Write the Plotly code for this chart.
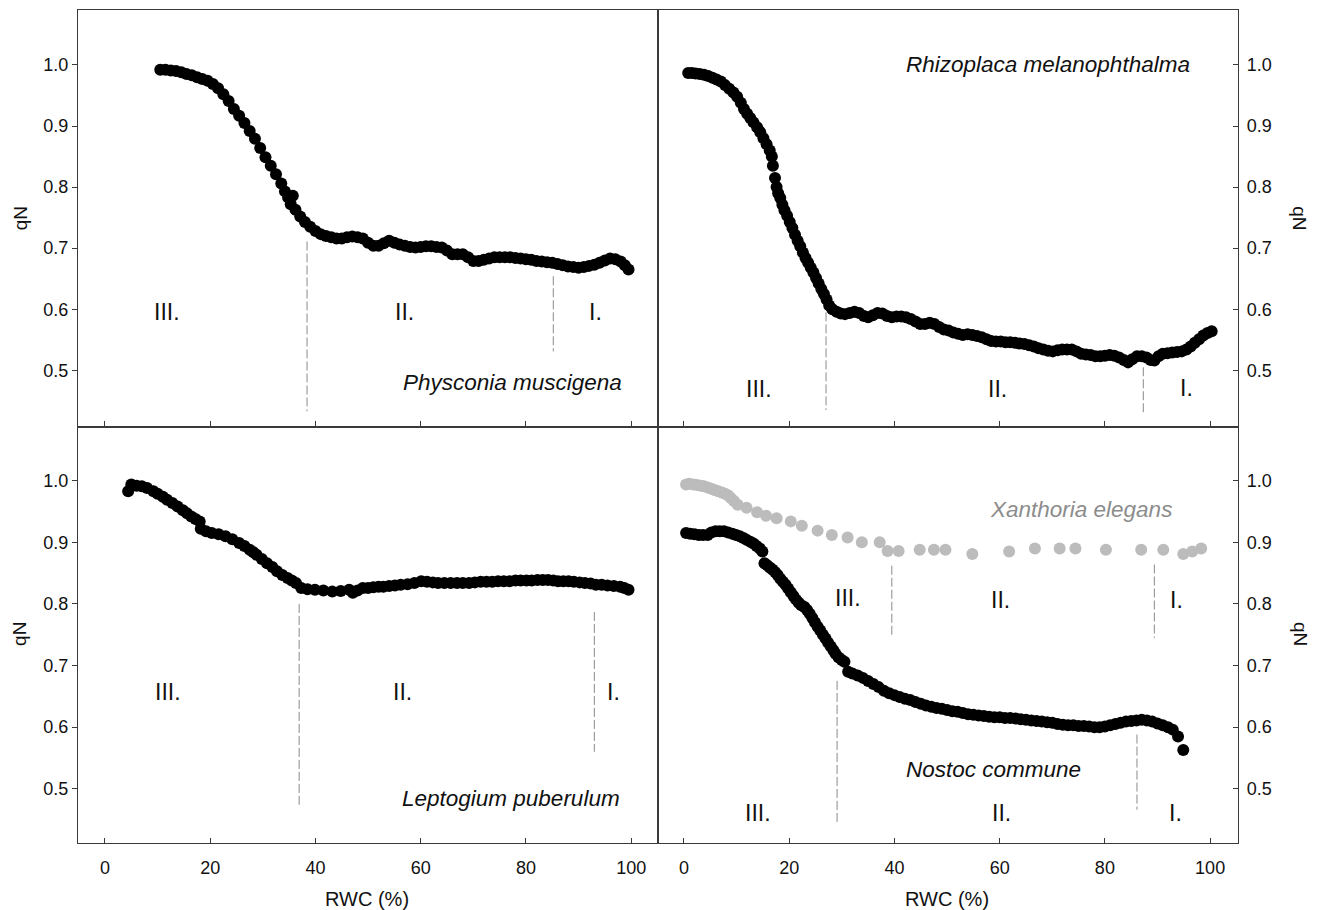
import plotly.graph_objects as go

# ---------------- data ----------------
# Physconia muscigena (top-left)
tl_x = [10.5,11.5,12.5,13.5,14.5,15.5,16.5,17.5,18.5,19.5,20.5,21.5,22.5,23.5,24.5,25.5,26.5,27.5,28.5,29.5,
        30.5,31.5,32.5,33.5,34.2,34.8,35.7,35.3,36.2,37.1,38.0,39.0,40.0,41.0,42.0,43.0,44.0,45.0,46.0,47.0,
        48.0,49.0,50.0,51.0,52.0,53.0,54.0,55.0,56.0,57.0,58.0,59.0,60.0,61.0,62.0,63.0,64.0,65.0,66.0,67.0,
        68.0,69.0,70.0,71.0,72.0,73.0,74.0,75.0,76.0,77.0,78.0,79.0,80.0,81.0,82.0,83.0,84.0,85.0,86.0,87.0,
        88.0,89.0,90.0,91.0,92.0,93.0,94.0,95.0,96.0,97.0,98.0,98.8,99.5]
tl_y = [0.992,0.992,0.991,0.990,0.988,0.985,0.983,0.980,0.977,0.974,0.969,0.962,0.952,0.941,0.928,0.917,0.905,0.892,0.879,0.864,
        0.849,0.835,0.821,0.806,0.793,0.783,0.786,0.772,0.763,0.752,0.743,0.735,0.728,0.723,0.720,0.718,0.716,0.716,0.718,0.719,
        0.718,0.716,0.709,0.704,0.704,0.708,0.712,0.709,0.706,0.704,0.702,0.701,0.702,0.703,0.703,0.702,0.701,0.696,0.690,0.690,
        0.690,0.685,0.679,0.679,0.681,0.683,0.685,0.685,0.685,0.685,0.684,0.683,0.682,0.681,0.679,0.678,0.677,0.676,0.674,0.672,
        0.670,0.669,0.668,0.669,0.671,0.673,0.676,0.680,0.683,0.682,0.678,0.672,0.665]

# Rhizoplaca melanophthalma (top-right)
tr_x = [0.8,1.5,2.2,3.0,3.8,4.6,5.4,6.2,7.0,7.8,8.6,9.4,10.1,10.8,11.4,12.0,12.6,13.2,13.9,14.5,
        15.1,15.7,16.3,16.7,16.9,17.3,17.6,17.9,18.3,18.7,19.1,19.6,20.1,20.6,21.1,21.6,22.1,22.6,23.1,23.6,
        24.1,24.6,25.1,25.6,26.1,26.6,27.1,27.6,28.2,29.0,29.8,30.6,31.5,32.4,33.3,34.2,35.0,35.9,36.8,37.7,
        38.6,39.5,40.4,41.3,42.2,43.1,44.0,44.9,45.8,46.7,47.6,48.5,49.4,50.3,51.2,52.1,53.0,53.9,54.8,55.7,
        56.6,57.5,58.4,59.3,60.2,61.1,62.0,62.9,63.8,64.7,65.6,66.5,67.4,68.3,69.2,70.1,71.0,71.9,72.8,73.7,
        74.6,75.5,76.4,77.3,78.2,79.1,80.0,80.9,81.8,82.7,83.6,84.4,85.2,86.1,87.0,87.9,88.7,89.4,90.2,91.0,
        91.9,92.8,93.7,94.6,95.5,96.3,97.1,97.9,98.7,99.5,100.3]
tr_y = [0.987,0.987,0.986,0.985,0.984,0.982,0.979,0.976,0.973,0.967,0.961,0.955,0.948,0.938,0.928,0.920,0.913,0.906,0.898,0.890,
        0.880,0.870,0.860,0.850,0.835,0.815,0.800,0.790,0.782,0.771,0.762,0.753,0.743,0.733,0.722,0.712,0.703,0.693,0.684,0.676,
        0.668,0.660,0.651,0.642,0.633,0.625,0.616,0.606,0.600,0.596,0.593,0.592,0.594,0.596,0.594,0.589,0.587,0.590,0.594,0.593,
        0.589,0.587,0.588,0.588,0.587,0.584,0.580,0.576,0.576,0.578,0.576,0.571,0.567,0.565,0.562,0.560,0.558,0.559,0.558,0.556,
        0.554,0.551,0.548,0.547,0.547,0.546,0.546,0.545,0.544,0.543,0.541,0.539,0.536,0.534,0.532,0.531,0.533,0.534,0.534,0.534,
        0.531,0.527,0.526,0.525,0.523,0.523,0.524,0.525,0.524,0.521,0.517,0.513,0.518,0.523,0.523,0.521,0.517,0.516,0.523,0.527,
        0.528,0.529,0.530,0.531,0.534,0.539,0.545,0.551,0.557,0.561,0.564]

# Leptogium puberulum (bottom-left)
bl_x = [4.4,5.0,6.0,7.0,8.0,9.2,10.0,11.0,11.8,12.8,13.8,14.8,15.6,16.4,17.2,18.0,18.2,19.2,20.3,21.6,
        22.9,24.2,25.5,26.5,27.5,28.2,28.8,29.8,30.8,31.8,32.7,33.7,34.7,35.5,36.3,37.3,38.5,39.9,41.5,43.2,
        44.8,46.4,47.1,48.0,49.0,50.0,51.0,52.0,52.9,54.0,55.1,56.2,57.5,58.8,60.1,61.2,62.3,63.3,64.5,65.7,
        66.9,68.0,69.2,70.3,71.4,72.5,73.6,74.7,75.8,76.9,78.0,79.0,80.1,81.1,82.2,83.2,84.2,85.2,86.1,87.1,
        88.1,89.1,90.2,91.2,92.3,93.3,94.4,95.5,96.7,97.9,98.7,99.5]
bl_y = [0.983,0.994,0.992,0.991,0.988,0.983,0.979,0.974,0.969,0.964,0.958,0.952,0.947,0.942,0.938,0.934,0.922,0.918,0.915,0.913,
        0.910,0.905,0.899,0.894,0.888,0.884,0.880,0.873,0.866,0.860,0.853,0.847,0.842,0.838,0.834,0.826,0.824,0.823,0.822,0.820,
        0.821,0.823,0.818,0.822,0.826,0.826,0.827,0.828,0.828,0.829,0.830,0.831,0.832,0.834,0.837,0.836,0.835,0.834,0.834,0.834,
        0.834,0.834,0.834,0.835,0.836,0.836,0.836,0.837,0.837,0.837,0.838,0.838,0.838,0.838,0.839,0.839,0.839,0.838,0.837,0.837,
        0.837,0.836,0.835,0.834,0.833,0.831,0.831,0.830,0.829,0.828,0.826,0.823]

# Xanthoria elegans (bottom-right, grey)
xe_x = [0.4,1.0,1.8,2.5,3.2,3.8,4.5,5.2,5.8,6.5,7.2,7.8,8.4,8.9,9.5,10.2,11.9,13.9,15.6,17.6,
        20.3,22.4,25.4,28.1,31.1,33.8,37.2,38.7,40.8,44.8,47.5,49.7,54.8,61.8,66.7,71.4,74.4,80.2,86.9,91.1,
        94.9,96.6,98.3]
xe_y = [0.994,0.995,0.994,0.993,0.992,0.991,0.989,0.987,0.985,0.983,0.981,0.979,0.976,0.972,0.967,0.961,0.956,0.949,0.943,0.939,
        0.934,0.927,0.919,0.912,0.908,0.900,0.900,0.886,0.886,0.888,0.888,0.888,0.881,0.885,0.890,0.890,0.890,0.888,0.888,0.888,
        0.881,0.885,0.890]

# Nostoc commune (bottom-right, black)
nc_x = [0.4,1.2,2.0,2.8,3.6,4.5,5.2,6.0,6.8,7.6,8.4,9.2,9.9,10.6,11.3,11.9,12.6,13.2,13.8,14.4,
        14.9,15.3,15.8,16.3,16.8,17.3,17.8,18.3,18.8,19.3,19.8,20.3,20.8,21.3,21.8,22.3,22.9,23.4,23.9,24.4,
        24.9,25.4,25.9,26.4,26.9,27.4,27.9,28.4,28.8,29.4,30.0,30.5,31.2,32.0,33.0,34.0,35.0,36.0,37.0,38.0,
        39.0,40.0,41.0,42.0,43.0,44.0,45.0,46.0,47.0,48.0,49.0,50.0,51.0,52.0,53.0,54.0,55.0,56.0,57.0,58.0,
        59.0,60.0,61.0,62.0,63.0,64.0,65.0,66.0,67.0,68.0,69.0,70.0,71.0,72.0,73.0,74.0,75.0,76.0,77.0,78.0,
        79.0,80.0,81.0,82.0,83.0,84.0,85.0,86.0,87.0,88.0,89.0,90.0,91.0,92.0,92.9,93.9,94.9]
nc_y = [0.915,0.914,0.913,0.912,0.912,0.912,0.916,0.918,0.918,0.918,0.916,0.914,0.912,0.910,0.907,0.904,0.901,0.898,0.894,0.890,
        0.885,0.866,0.863,0.859,0.856,0.852,0.847,0.841,0.836,0.831,0.825,0.819,0.813,0.807,0.802,0.798,0.795,0.790,0.784,0.777,
        0.770,0.763,0.757,0.750,0.744,0.737,0.731,0.725,0.719,0.713,0.709,0.706,0.690,0.687,0.684,0.680,0.675,0.670,0.665,0.659,
        0.655,0.652,0.649,0.646,0.644,0.641,0.638,0.635,0.633,0.631,0.630,0.628,0.626,0.625,0.623,0.621,0.620,0.619,0.618,0.617,
        0.616,0.616,0.615,0.615,0.614,0.613,0.612,0.611,0.610,0.609,0.608,0.607,0.605,0.604,0.603,0.603,0.602,0.602,0.601,0.600,
        0.600,0.601,0.603,0.605,0.607,0.609,0.610,0.611,0.612,0.611,0.609,0.606,0.603,0.600,0.596,0.585,0.563]

# phase boundaries: x position, y top, y bottom
tl_div = [(38.4, 0.711, 0.433), (85.2, 0.654, 0.531)]
tr_div = [(27.0, 0.595, 0.435), (87.3, 0.505, 0.428)]
bl_div = [(36.9, 0.800, 0.474), (93.0, 0.787, 0.560)]
br_div = [(39.5, 0.862, 0.747), (89.4, 0.864, 0.745), (29.1, 0.675, 0.446), (86.1, 0.588, 0.466)]

# labels: text, x, y
tl_labels = [("III.", 11.8, 0.596), ("II.", 57.0, 0.596), ("I.", 93.3, 0.596)]
tr_labels = [("III.", 14.3, 0.469), ("II.", 59.5, 0.469), ("I.", 95.6, 0.471)]
bl_labels = [("III.", 12.0, 0.657), ("II.", 56.5, 0.657), ("I.", 96.6, 0.657)]
br_labels = [("III.", 31.2, 0.810), ("II.", 60.1, 0.807), ("I.", 93.7, 0.807),
             ("III.", 14.1, 0.461), ("II.", 60.3, 0.461), ("I.", 93.5, 0.461)]
species = [("Physconia muscigena", 77.4, 0.480, "x", "y", "#111111"),
           ("Rhizoplaca melanophthalma", 69.2, 1.001, "x2", "y2", "#111111"),
           ("Leptogium puberulum", 77.2, 0.485, "x3", "y3", "#111111"),
           ("Xanthoria elegans", 75.5, 0.953, "x4", "y4", "#8c8c8c"),
           ("Nostoc commune", 58.9, 0.531, "x4", "y4", "#111111")]

x_ticks = [0, 20, 40, 60, 80, 100]
y_ticks = [0.5, 0.6, 0.7, 0.8, 0.9, 1.0]

# ---------------- figure ----------------
FONT = "Arial, Liberation Sans, sans-serif"
LINE = "#3a3a3a"
BLACK = "#000000"
GREY = "#bcbcbc"
DASH = "#8a8a8a"
MS = 12

fig = go.Figure()

def pts(x, y, xa, ya, color):
    fig.add_trace(go.Scatter(x=x, y=y, xaxis=xa, yaxis=ya, mode="markers",
                             marker=dict(size=MS, color=color, line=dict(width=0)),
                             showlegend=False, hoverinfo="skip"))

def divs(d, xa, ya):
    for (xv, y0, y1) in d:
        fig.add_trace(go.Scatter(x=[xv, xv], y=[y0, y1], xaxis=xa, yaxis=ya, mode="lines",
                                 line=dict(color=DASH, width=1, dash="9px,3px"),
                                 showlegend=False, hoverinfo="skip"))

divs(tl_div, "x", "y")
divs(tr_div, "x2", "y2")
divs(bl_div, "x3", "y3")
divs(br_div, "x4", "y4")
pts(tl_x, tl_y, "x", "y", BLACK)
pts(tr_x, tr_y, "x2", "y2", BLACK)
pts(bl_x, bl_y, "x3", "y3", BLACK)
pts(xe_x, xe_y, "x4", "y4", GREY)
pts(nc_x, nc_y, "x4", "y4", BLACK)

annotations = []
for labs, xr, yr in [(tl_labels, "x", "y"), (tr_labels, "x2", "y2"),
                     (bl_labels, "x3", "y3"), (br_labels, "x4", "y4")]:
    for (t, xv, yv) in labs:
        annotations.append(dict(text=t, x=xv, y=yv, xref=xr, yref=yr, showarrow=False,
                                font=dict(size=23, color="#111111", family=FONT)))
for (t, xv, yv, xr, yr, col) in species:
    annotations.append(dict(text="<i>" + t + "</i>", x=xv, y=yv, xref=xr, yref=yr, showarrow=False,
                            font=dict(size=22.5, color=col, family=FONT)))
# axis titles
for (xp, yp, ang) in [(-0.05, 0.75, -90), (-0.05, 0.251, -90), (1.0534, 0.75, 90), (1.0534, 0.251, 90)]:
    annotations.append(dict(text="qN", x=xp, y=yp, xref="paper", yref="paper", showarrow=False,
                            xanchor="center", yanchor="middle",
                            textangle=ang, font=dict(size=19, color="#111111", family=FONT)))
for xp in [0.249, 0.749]:
    annotations.append(dict(text="RWC (%)", x=xp, y=-0.067, xref="paper", yref="paper", showarrow=False,
                            xanchor="center", yanchor="middle",
                            font=dict(size=20, color="#111111", family=FONT)))

common_x = dict(showline=True, linecolor=LINE, linewidth=1.3, mirror=True, showgrid=False, zeroline=False,
                tickvals=x_ticks, ticks="inside", ticklen=5, tickcolor=LINE, tickwidth=1.3,
                ticklabelstandoff=8,
                tickfont=dict(size=18, color="#111111", family=FONT))
common_y = dict(showline=True, linecolor=LINE, linewidth=1.3, mirror=True, showgrid=False, zeroline=False,
                tickvals=y_ticks, tickformat=".1f", ticklen=5, tickcolor=LINE, tickwidth=1.3,
                tickfont=dict(size=18, color="#111111", family=FONT))

XL = [-5.13, 105.1]
XR = [-4.94, 105.3]
YT = [0.408, 1.09]
YB = [0.412, 1.088]

fig.update_layout(
    width=1311, height=902,
    margin=dict(l=70, r=81, t=2, b=67, autoexpand=False),
    paper_bgcolor="white", plot_bgcolor="white",
    font=dict(family=FONT, color="#111111"),
    xaxis=dict(common_x, domain=[0, 0.5], range=XL, anchor="y", showticklabels=False),
    yaxis=dict(common_y, domain=[0.5, 1], range=YT, anchor="x", side="left", ticks="outside"),
    xaxis2=dict(common_x, domain=[0.5, 1], range=XR, anchor="y2", showticklabels=False),
    yaxis2=dict(common_y, domain=[0.5, 1], range=YT, anchor="x2", side="right", ticks="inside",
                ticklabelstandoff=4),
    xaxis3=dict(common_x, domain=[0, 0.5], range=XL, anchor="y3"),
    yaxis3=dict(common_y, domain=[0, 0.5], range=YB, anchor="x3", side="left", ticks="outside"),
    xaxis4=dict(common_x, domain=[0.5, 1], range=XR, anchor="y4"),
    yaxis4=dict(common_y, domain=[0, 0.5], range=YB, anchor="x4", side="right", ticks="inside",
                ticklabelstandoff=4),
    annotations=annotations,
)

fig.write_html("out.html")
